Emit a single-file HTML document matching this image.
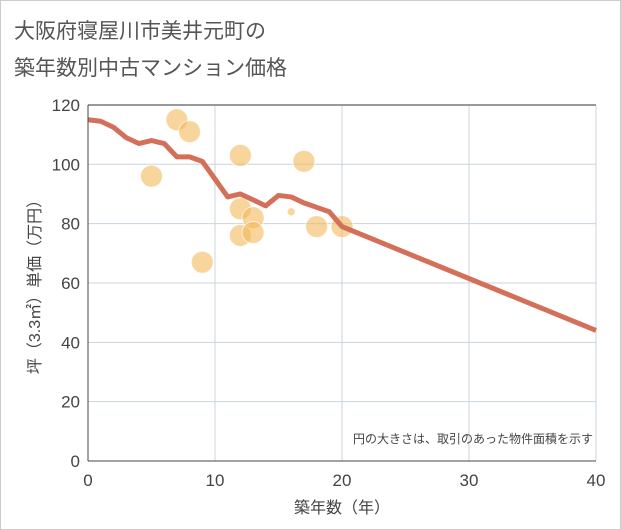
<!DOCTYPE html>
<html><head><meta charset="utf-8"><style>
body{margin:0;background:#fff;font-family:"Liberation Sans","Noto Sans CJK JP",sans-serif}
.wrap{position:relative;width:619px;height:528px;border:1px solid #ccc;background:#fff}
</style></head><body>
<div class="wrap">
<svg id="c" width="621" height="530" style="position:absolute;left:-1px;top:-1px" font-family="Liberation Sans, Noto Sans CJK JP, sans-serif">
<text x="14" y="38" font-size="21" fill="#555">大阪府寝屋川市美井元町の</text>
<text x="14" y="75" font-size="21" fill="#555">築年数別中古マンション価格</text>
<g id="grid"></g><g id="bubbles"></g><g id="line"></g><g id="axes"></g>
<text x="593" y="443" font-size="12" fill="#444" text-anchor="end">円の大きさは、取引のあった物件面積を示す</text>
<text x="342" y="513" font-size="16" fill="#444" text-anchor="middle">築年数（年）</text>
<text transform="translate(40,283) rotate(-90)" font-size="16" fill="#444" text-anchor="middle">坪（3.3㎡）単価（万円）</text>
</svg>
</div>
<script>
const xTicks=[0,10,20,30,40];
const yTicks=[0,20,40,60,80,100,120];
const bubbleX=[5,7,8,9,12,12,12,13,13,16,17,18,20];
const bubbleY=[96,115,111,67,103,85,76,82,77,84,101,79,79];
const bubbleR=[11,11,11,11,11,11,11,11,11,4,11,11,11];
const lineX=[0,1,2,3,4,5,6,7,8,9,10,11,12,13,14,15,16,17,18,19,20,40];
const lineY=[115,114.5,112.5,109,107,108,107,102.5,102.5,101,95,89,90,88,86,89.5,89,87,85.5,84,79,44];
const NS="http://www.w3.org/2000/svg";
const X=v=>88+v*12.7, Y=v=>461-v*2.967;
function mk(p,t,a){const e=document.createElementNS(NS,t);for(const k in a)e.setAttribute(k,a[k]);p.appendChild(e);return e;}
const g=document.getElementById('grid'),ax=document.getElementById('axes');
xTicks.forEach(v=>{
 const l=mk(g,'line',{x1:X(v),x2:X(v),y1:Y(120),y2:Y(0),stroke:'#c8d4e0','stroke-width':1});
 
 
 const t=mk(ax,'text',{x:X(v),y:486,'font-size':17,fill:'#444','text-anchor':'middle'});t.textContent=v;
 
 
});
yTicks.forEach(v=>{
 const l=mk(g,'line',{x1:X(0),x2:X(40),y1:Y(v),y2:Y(v),stroke:v==120?'#999':'#c8d4e0','stroke-width':v==120?2:1});
 
 
 const t=mk(ax,'text',{x:80,y:Y(v)+6,'font-size':17,fill:'#444','text-anchor':'end'});t.textContent=v;
 
 
});
const b=document.getElementById('bubbles');
bubbleX.forEach((x,i)=>{
 const c=mk(b,'circle',{cx:X(x),cy:Y(bubbleY[i]),r:bubbleR[i],fill:'rgba(242,185,90,0.6)',stroke:'rgba(255,255,255,0.7)','stroke-width':1});
 
 
});
const p=mk(document.getElementById('line'),'polyline',{points:lineX.map((x,i)=>X(x)+','+Y(lineY[i])).join(' '),fill:'none',stroke:'#d4705a','stroke-width':5,'stroke-linejoin':'round'});


const ya=mk(ax,'line',{x1:X(0),x2:X(0),y1:Y(120),y2:Y(0),stroke:'#444','stroke-width':1});


const xa=mk(ax,'line',{x1:X(0),x2:X(40),y1:Y(0),y2:Y(0),stroke:'#444','stroke-width':1});


</script>
</body></html>
